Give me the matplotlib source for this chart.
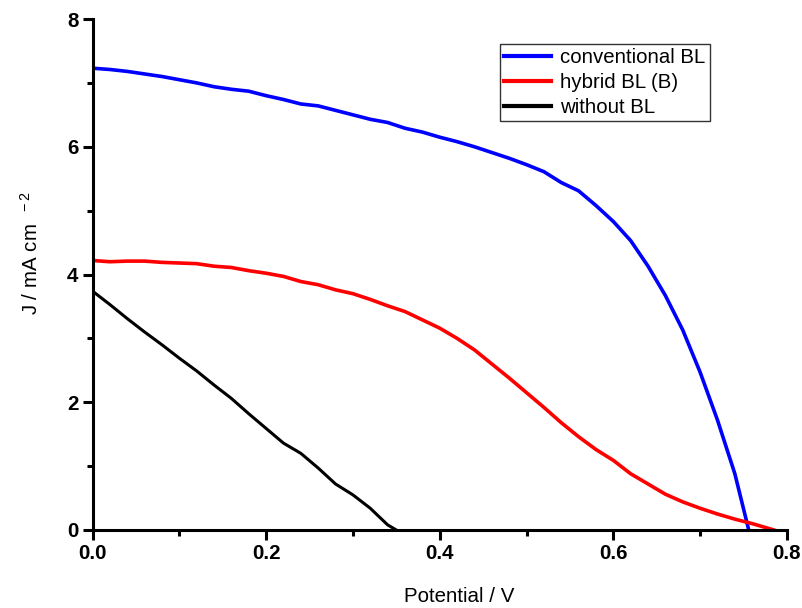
import matplotlib
matplotlib.use("Agg")
import matplotlib.pyplot as plt
from matplotlib.ticker import MultipleLocator, FormatStrFormatter

plt.rcParams['font.family'] = ['Liberation Sans', 'DejaVu Sans']

# J-V curves: potential (V) vs current density (mA cm^-2)
v_conv = [0.00, 0.02, 0.04, 0.06, 0.08, 0.10, 0.12, 0.14, 0.16, 0.18, 0.20,
          0.22, 0.24, 0.26, 0.28, 0.30, 0.32, 0.34, 0.36, 0.38, 0.40, 0.42,
          0.44, 0.46, 0.48, 0.50, 0.52, 0.54, 0.56, 0.58, 0.60, 0.62, 0.64,
          0.66, 0.68, 0.70, 0.72, 0.74, 0.756]
j_conv = [7.23, 7.21, 7.18, 7.14, 7.10, 7.05, 7.00, 6.94, 6.90, 6.87, 6.80,
          6.74, 6.67, 6.64, 6.57, 6.50, 6.43, 6.38, 6.29, 6.23, 6.15, 6.08,
          6.00, 5.91, 5.82, 5.72, 5.61, 5.44, 5.31, 5.08, 4.83, 4.53, 4.13,
          3.67, 3.13, 2.47, 1.72, 0.88, 0.00]

v_hyb = [0.00, 0.02, 0.04, 0.06, 0.08, 0.10, 0.12, 0.14, 0.16, 0.18, 0.20,
         0.22, 0.24, 0.26, 0.28, 0.30, 0.32, 0.34, 0.36, 0.38, 0.40, 0.42,
         0.44, 0.46, 0.48, 0.50, 0.52, 0.54, 0.56, 0.58, 0.60, 0.62, 0.64,
         0.66, 0.68, 0.70, 0.72, 0.74, 0.76, 0.785]
j_hyb = [4.22, 4.20, 4.21, 4.21, 4.19, 4.18, 4.17, 4.13, 4.11, 4.06, 4.02,
         3.97, 3.89, 3.84, 3.76, 3.70, 3.61, 3.51, 3.42, 3.29, 3.16, 3.00,
         2.82, 2.60, 2.38, 2.15, 1.92, 1.68, 1.46, 1.26, 1.09, 0.88, 0.72,
         0.56, 0.44, 0.34, 0.25, 0.17, 0.10, 0.00]

v_none = [0.00, 0.02, 0.04, 0.06, 0.08, 0.10, 0.12, 0.14, 0.16, 0.18, 0.20,
          0.22, 0.24, 0.26, 0.28, 0.30, 0.32, 0.34, 0.35]
j_none = [3.74, 3.53, 3.31, 3.10, 2.90, 2.69, 2.49, 2.27, 2.06, 1.82, 1.59,
          1.36, 1.20, 0.97, 0.72, 0.55, 0.34, 0.08, 0.00]

labels = ['conventional BL', 'hybrid BL (B)', 'without BL']
colors = ['#0000ff', '#ff0000', '#000000']

fig = plt.figure(figsize=(8.03, 6.08), dpi=100)
ax = fig.add_axes([0.1152, 0.1283, 0.8648, 0.8404])

ax.plot(v_conv, j_conv, color=colors[0], lw=2.6, label=labels[0])
ax.plot(v_hyb, j_hyb, color=colors[1], lw=2.6, label=labels[1])
ax.plot(v_none, j_none, color=colors[2], lw=2.2, label=labels[2])

ax.set_xlim(0, 0.8)
ax.set_ylim(0, 8)
ax.xaxis.set_major_locator(MultipleLocator(0.2))
ax.xaxis.set_minor_locator(MultipleLocator(0.1))
ax.yaxis.set_major_locator(MultipleLocator(2))
ax.yaxis.set_minor_locator(MultipleLocator(1))
ax.xaxis.set_major_formatter(FormatStrFormatter('%.1f'))
ax.yaxis.set_major_formatter(FormatStrFormatter('%d'))

for side in ('top', 'right'):
    ax.spines[side].set_visible(False)
for side in ('left', 'bottom'):
    ax.spines[side].set_linewidth(2.2)

ax.tick_params(which='major', direction='out', length=7, width=2.2,
               labelsize=14.8, pad=3)
ax.tick_params(which='minor', direction='out', length=4, width=2.2)
for lab in ax.get_xticklabels() + ax.get_yticklabels():
    lab.set_fontweight('bold')

ax.set_xlabel('Potential / V', fontsize=14.8)
ax.xaxis.set_label_coords((459 - 92.5) / 694.5, -(597 - 530) / 511.0)
ax.xaxis.label.set_verticalalignment('center')
ax.set_ylabel(r'J / mA cm$\mathregular{^{\ \ -2}}$', fontsize=14.8)
ax.yaxis.set_label_coords(-(92.5 - 31) / 694.5, (530 - 253) / 511.0)
ax.yaxis.label.set_verticalalignment('center')

leg = ax.legend(loc='upper left', bbox_to_anchor=(500 / 803, 1 - 44 / 608),
                bbox_transform=fig.transFigure, fancybox=False, frameon=True,
                edgecolor='black', fontsize=14.7, handlelength=2.3,
                handletextpad=0.45, labelspacing=0.3, borderpad=0.2,
                borderaxespad=0)
leg.get_frame().set_linewidth(1.0)
for line in leg.get_lines():
    line.set_linewidth(3.0)

fig.savefig('out.png', dpi=100)
